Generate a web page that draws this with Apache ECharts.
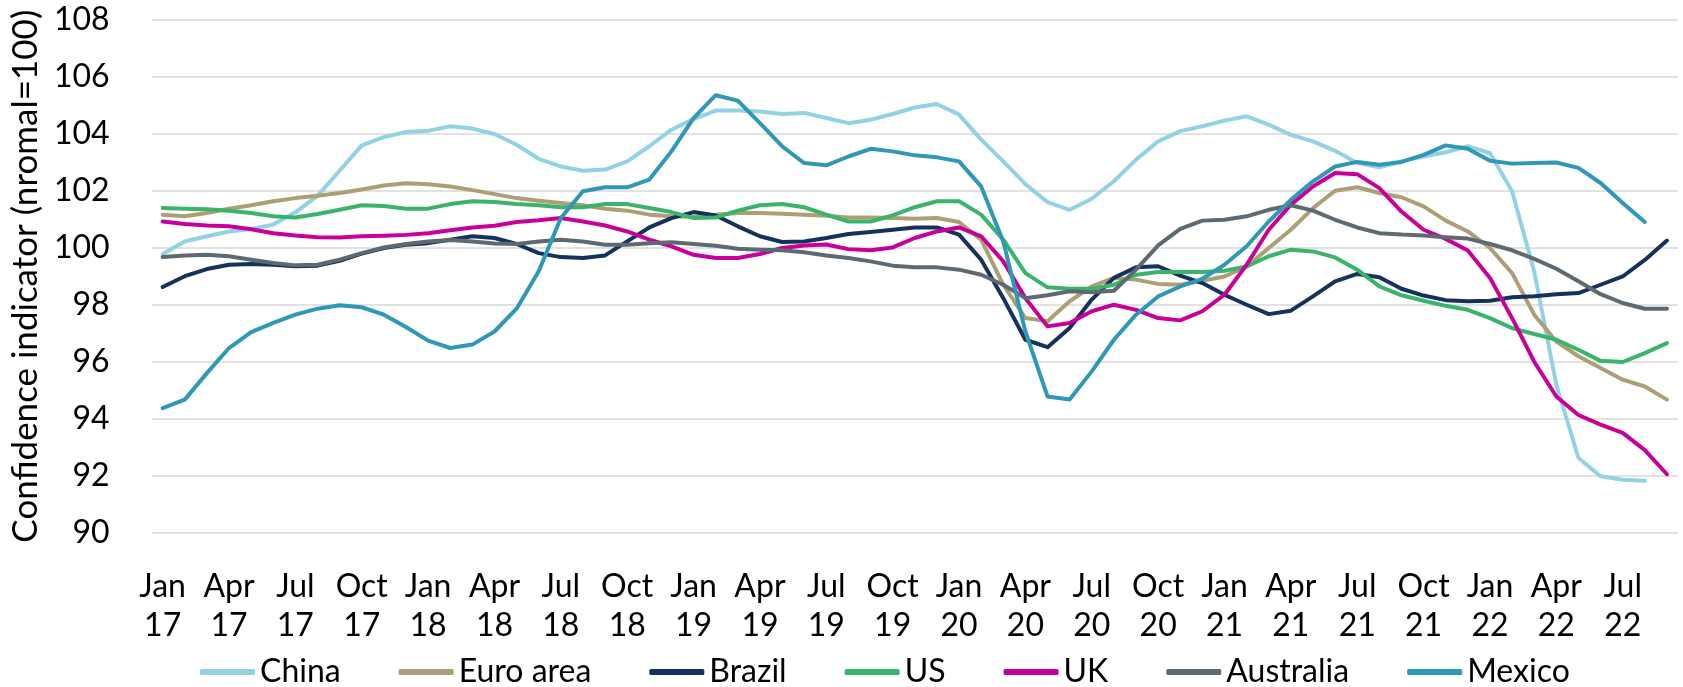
<!DOCTYPE html>
<html>
<head>
<meta charset="utf-8">
<script src="https://cdn.jsdelivr.net/npm/echarts@6/dist/echarts.min.js"></script>
<style>
  html, body { margin: 0; padding: 0; background: #fff; }
  #chart { width: 1683px; height: 687px; }
</style>
</head>
<body>
<div id="chart"></div>
<script>
// months Jan 17 .. Sep 22
const monthNames = ['Jan', 'Feb', 'Mar', 'Apr', 'May', 'Jun', 'Jul', 'Aug', 'Sep', 'Oct', 'Nov', 'Dec']
const years = ['17', '18', '19', '20', '21', '22']
const seriesNames = ['China', 'Euro area', 'Brazil', 'US', 'UK', 'Australia', 'Mexico']
const yTicks = { min: 90, max: 108, interval: 2 }

const china = [99.78, 100.22, 100.4, 100.57, 100.66, 100.81, 101.24, 101.82, 102.7, 103.59, 103.88, 104.06,
  104.1, 104.26, 104.18, 103.99, 103.61, 103.12, 102.85, 102.7, 102.74, 103.03, 103.56,
  104.14, 104.51, 104.81, 104.81, 104.78, 104.69, 104.73, 104.55, 104.37, 104.49, 104.69, 104.92,
  105.04, 104.67, 103.79, 103.03, 102.23, 101.6, 101.33, 101.72, 102.33, 103.09, 103.73, 104.09,
  104.26, 104.46, 104.61, 104.32, 103.96, 103.73, 103.4, 102.97, 102.82, 103.03, 103.2, 103.35,
  103.56, 103.32, 101.98, 99.17, 95.19, 92.62, 91.98, 91.86, 91.82]
const euroArea = [101.16, 101.1, 101.22, 101.37, 101.49, 101.63, 101.74, 101.82, 101.92, 102.04, 102.18, 102.26,
  102.23, 102.15, 102.02, 101.88, 101.74, 101.65, 101.57, 101.49, 101.37, 101.3, 101.16,
  101.1, 101.09, 101.16, 101.22, 101.22, 101.19, 101.16, 101.12, 101.06, 101.06, 101.04, 101.02,
  101.04, 100.9, 100.28, 98.7, 97.53, 97.42, 98.12, 98.64, 98.94, 98.88, 98.73, 98.7,
  98.84, 98.99, 99.34, 99.99, 100.63, 101.39, 102.0, 102.12, 101.92, 101.77, 101.45, 100.95,
  100.57, 99.99, 99.11, 97.65, 96.71, 96.19, 95.78, 95.37, 95.13, 94.67]
const brazil = [98.62, 99.0, 99.25, 99.4, 99.43, 99.4, 99.35, 99.37, 99.54, 99.79, 99.99, 100.1,
  100.16, 100.28, 100.4, 100.34, 100.13, 99.81, 99.67, 99.64, 99.73, 100.22, 100.71,
  101.04, 101.25, 101.13, 100.75, 100.4, 100.2, 100.22, 100.34, 100.48, 100.55, 100.63, 100.71,
  100.71, 100.46, 99.58, 98.23, 96.77, 96.51, 97.18, 98.18, 98.94, 99.31, 99.35, 99.02,
  98.76, 98.35, 98.0, 97.67, 97.79, 98.29, 98.82, 99.08, 98.96, 98.56, 98.32, 98.16,
  98.12, 98.14, 98.26, 98.3, 98.37, 98.41, 98.7, 98.99, 99.57, 100.25]
const us = [101.39, 101.37, 101.35, 101.3, 101.22, 101.1, 101.06, 101.18, 101.33, 101.49, 101.46, 101.37,
  101.37, 101.53, 101.63, 101.6, 101.53, 101.49, 101.42, 101.42, 101.53, 101.53, 101.39,
  101.25, 101.04, 101.06, 101.3, 101.49, 101.53, 101.42, 101.16, 100.92, 100.92, 101.13, 101.42,
  101.63, 101.63, 101.16, 100.28, 99.11, 98.61, 98.56, 98.56, 98.7, 99.05, 99.15, 99.15,
  99.15, 99.19, 99.34, 99.7, 99.93, 99.87, 99.66, 99.23, 98.64, 98.33, 98.14, 97.96,
  97.82, 97.53, 97.18, 96.97, 96.77, 96.42, 96.03, 95.99, 96.3, 96.65]
const uk = [100.92, 100.83, 100.78, 100.75, 100.65, 100.51, 100.43, 100.37, 100.36, 100.4, 100.42, 100.45,
  100.51, 100.61, 100.71, 100.77, 100.9, 100.96, 101.04, 100.92, 100.78, 100.57, 100.28,
  100.05, 99.75, 99.64, 99.64, 99.78, 99.99, 100.08, 100.11, 99.95, 99.91, 100.01, 100.34,
  100.57, 100.71, 100.4, 99.52, 98.23, 97.24, 97.36, 97.77, 98.0, 97.82, 97.53, 97.45,
  97.77, 98.35, 99.4, 100.63, 101.51, 102.15, 102.62, 102.58, 102.09, 101.27, 100.63, 100.31,
  99.9, 98.94, 97.53, 96.0, 94.78, 94.13, 93.79, 93.5, 92.9, 92.05]
const australia = [99.67, 99.73, 99.75, 99.7, 99.58, 99.46, 99.38, 99.4, 99.58, 99.81, 100.01, 100.13,
  100.22, 100.27, 100.22, 100.15, 100.13, 100.22, 100.28, 100.22, 100.1, 100.1, 100.16,
  100.19, 100.13, 100.07, 99.96, 99.93, 99.91, 99.84, 99.73, 99.64, 99.52, 99.37, 99.31,
  99.31, 99.23, 99.05, 98.7, 98.23, 98.33, 98.47, 98.44, 98.49, 99.23, 100.08, 100.66,
  100.95, 100.98, 101.1, 101.33, 101.49, 101.3, 100.98, 100.71, 100.51, 100.46, 100.43, 100.37,
  100.32, 100.13, 99.91, 99.61, 99.26, 98.82, 98.37, 98.06, 97.86, 97.86]
const mexico = [94.37, 94.67, 95.6, 96.48, 97.04, 97.36, 97.65, 97.86, 97.98, 97.91, 97.65, 97.22,
  96.74, 96.48, 96.6, 97.06, 97.86, 99.17, 101.04, 101.98, 102.12, 102.12, 102.39,
  103.38, 104.55, 105.35, 105.16, 104.37, 103.56, 102.97, 102.89, 103.2, 103.47, 103.38, 103.24,
  103.17, 103.03, 102.15, 100.22, 97.06, 94.78, 94.67, 95.66, 96.77, 97.65, 98.29, 98.64,
  98.91, 99.4, 100.05, 100.92, 101.68, 102.33, 102.85, 103.01, 102.91, 103.01, 103.26, 103.59,
  103.47, 103.05, 102.95, 102.97, 102.99, 102.8, 102.27, 101.57, 100.9]

const colors = ['#92D2E4', '#AD9F74', '#14325C', '#3AB46A', '#C8009A', '#5E6A72', '#2E98B6']
const FONT = 'Lato'

// category labels "Jan\n17" ...
const categories = []
for (const y of years) {
  for (const m of monthNames) {
    if (categories.length < 69) categories.push(m + '\n' + y)
  }
}

const allData = [china, euroArea, brazil, us, uk, australia, mexico]

const chart = echarts.init(document.getElementById('chart'), null, { renderer: 'canvas' })

const option = {
  animation: false,
  backgroundColor: '#ffffff',
  color: colors,
  textStyle: { fontFamily: FONT },
  grid: { left: 150, right: 5, top: 19.7, bottom: 154.3 },
  legend: {
    data: seriesNames,
    left: 195,
    top: 651,
    icon: 'roundRect',
    itemWidth: 55,
    itemHeight: 6,
    itemGap: 58,
    textStyle: { fontFamily: FONT, fontSize: 32, color: '#000' }
  },
  xAxis: {
    type: 'category',
    data: categories,
    boundaryGap: true,
    axisLine: { show: false },
    axisTick: { show: false },
    axisLabel: {
      interval: 2,
      margin: 34,
      color: '#000',
      fontFamily: FONT,
      fontSize: 32,
      lineHeight: 39
    }
  },
  yAxis: {
    type: 'value',
    min: yTicks.min,
    max: yTicks.max,
    interval: yTicks.interval,
    name: 'Confidence indicator (nromal=100)',
    nameLocation: 'middle',
    nameGap: 84,
    nameTextStyle: { fontFamily: FONT, fontSize: 35, color: '#000' },
    axisLine: { show: false },
    axisTick: { show: false },
    axisLabel: { margin: 42, color: '#000', fontFamily: FONT, fontSize: 32 },
    splitLine: { lineStyle: { color: '#D9D9D9', width: 1.5 } }
  },
  series: seriesNames.map((name, i) => ({
    name: name,
    type: 'line',
    data: allData[i],
    symbol: 'none',
    smooth: false,
    lineStyle: { width: 4, color: colors[i], cap: 'round', join: 'round' },
    itemStyle: { color: colors[i] }
  }))
}

chart.setOption(option)
</script>
</body>
</html>
